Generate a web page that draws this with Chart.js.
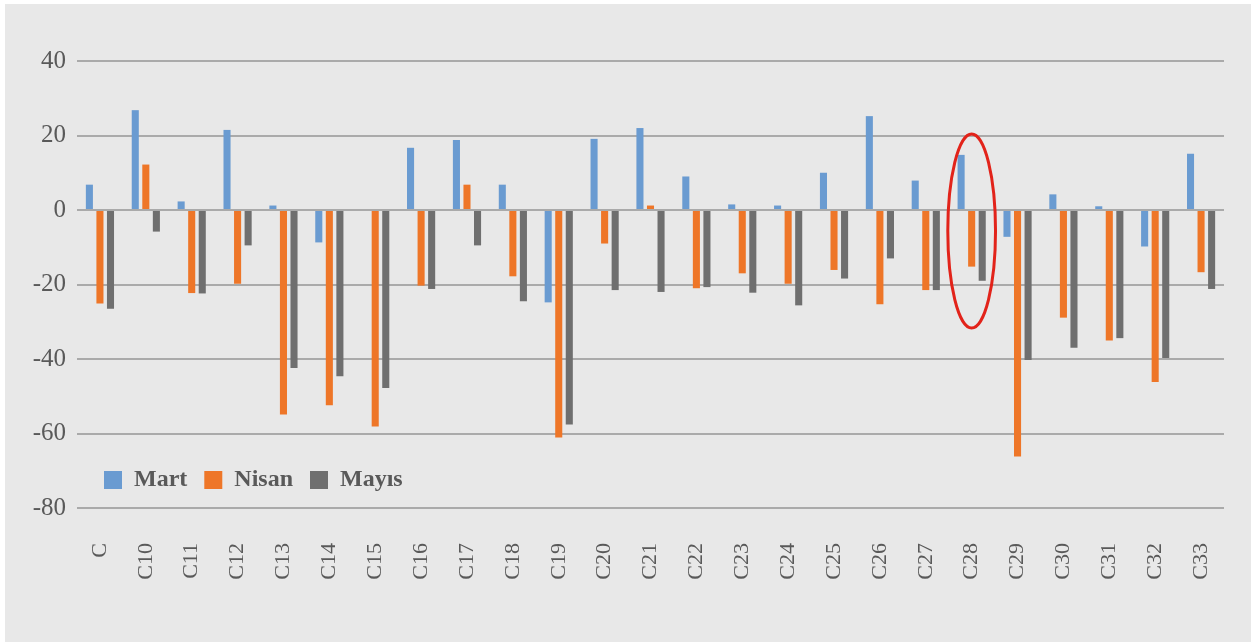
<!DOCTYPE html>
<html>
<head>
<meta charset="utf-8">
<script src="https://cdn.jsdelivr.net/npm/chart.js@4/dist/chart.umd.min.js"></script>
<style>
    html, body { margin: 0; padding: 0; background: #fff; }
    #wrap { position: absolute; left: 5px; top: 4px; width: 1246px; height: 638px; background: #e8e8e8; }
</style>
</head>
<body>
<div id="wrap"><canvas id="chart"></canvas></div>
<script>
const categories = ["C", "C10", "C11", "C12", "C13", "C14", "C15", "C16", "C17", "C18", "C19", "C20", "C21",
    "C22", "C23", "C24", "C25", "C26", "C27", "C28", "C29", "C30", "C31", "C32", "C33"];
const mart  = [6.8, 26.8, 2.3, 21.5, 1.2, -8.7, 0, 16.7, 18.8, 6.8, -24.8, 19.1, 22.0,
    9.0, 1.5, 1.2, 10.0, 25.2, 7.9, 14.8, -7.2, 4.2, 1.0, -9.8, 15.1];
const nisan = [-25.1, 12.2, -22.3, -19.8, -54.9, -52.4, -58.1, -20.3, 6.8, -17.8, -61.1, -9.0, 1.2,
    -21.0, -17.0, -19.8, -16.1, -25.3, -21.5, -15.2, -66.2, -28.9, -35.0, -46.2, -16.7];
const mayis = [-26.5, -5.8, -22.4, -9.5, -42.4, -44.6, -47.8, -21.2, -9.5, -24.5, -57.6, -21.5, -22.0,
    -20.7, -22.2, -25.6, -18.4, -13.0, -21.5, -19.0, -40.3, -37.0, -34.4, -39.7, -21.2];
const yMin = -80, yMax = 40, yStep = 20;

// red ring drawn around one category
const markedCategory = "C28";
const markTop = 20.4, markBottom = -31.7;

const textColor = '#595959';
const serif = "'Liberation Serif', 'DejaVu Serif', serif";

// put the legend inside the plot, bottom left
const legendInPlot = {
    id: 'legendInPlot',
    afterLayout(chart) {
        let lg = chart.legend;
        let pad = lg.options.labels.padding;
        let left = chart.chartArea.left + 27 - pad;
        let top = chart.chartArea.bottom - 37 - pad - 3;
        let w = lg.width, h = lg.height;
        lg.left = left; lg.right = left + w;
        lg.top = top; lg.bottom = top + h;
    }
};

const ringPlugin = {
    id: 'ringPlugin',
    afterDatasetsDraw(chart) {
        let ctx = chart.ctx;
        let x = chart.scales.x, y = chart.scales.y;
        let i = categories.indexOf(markedCategory);
        let cx = x.getPixelForValue(i);
        let rx = x.width / categories.length * 0.52;
        let yt = y.getPixelForValue(markTop);
        let yb = y.getPixelForValue(markBottom);
        ctx.save();
        ctx.beginPath();
        ctx.ellipse(cx, (yt + yb) / 2, rx, (yb - yt) / 2, 0, 0, Math.PI * 2);
        ctx.strokeStyle = '#e2231a';
        ctx.lineWidth = 3;
        ctx.stroke();
        ctx.restore();
    }
};

let ctx = document.getElementById("chart").getContext("2d");
let chart = new Chart(ctx, {
    type: "bar",
    data: {
        labels: categories,
        datasets: [{
            label: "Mart",
            data: mart,
            backgroundColor: '#6a9bd1'
        },
        {
            label: "Nisan",
            data: nisan,
            backgroundColor: '#ee7628'
        },
        {
            label: "Mayıs",
            data: mayis,
            backgroundColor: '#6f6f6f'
        }]
    },
    options: {
        responsive: true,
        maintainAspectRatio: false,
        animation: false,
        categoryPercentage: 0.69,
        barPercentage: 0.67,
        layout: { padding: { left: 0, right: 27, top: 57, bottom: 0 } },
        plugins: {
            tooltip: { enabled: false },
            legend: {
                position: 'bottom',
                align: 'start',
                labels: {
                    boxWidth: 18,
                    boxHeight: 18,
                    padding: 17,
                    color: textColor,
                    font: { family: serif, size: 24, weight: 'bold' }
                }
            }
        },
        scales: {
            x: {
                grid: { display: false, drawTicks: false },
                border: { display: false },
                ticks: {
                    color: textColor,
                    font: { family: serif, size: 22 },
                    minRotation: 90,
                    maxRotation: 90,
                    padding: 35,
                    autoSkip: false
                },
                afterFit(scale) {
                    scale.height = 83;
                    scale.paddingLeft = 0;
                    scale.paddingRight = 0;
                }
            },
            y: {
                min: yMin,
                max: yMax,
                grid: { color: '#aaaaaa', lineWidth: 2, drawTicks: false },
                border: { display: false },
                ticks: {
                    stepSize: yStep,
                    color: textColor,
                    font: { family: serif, size: 25 },
                    padding: 11
                },
                afterFit(scale) {
                    scale.width = 72;
                    scale.paddingTop = 0;
                    scale.paddingBottom = 0;
                }
            }
        }
    },
    plugins: [legendInPlot, ringPlugin]
});
</script>
</body>
</html>
